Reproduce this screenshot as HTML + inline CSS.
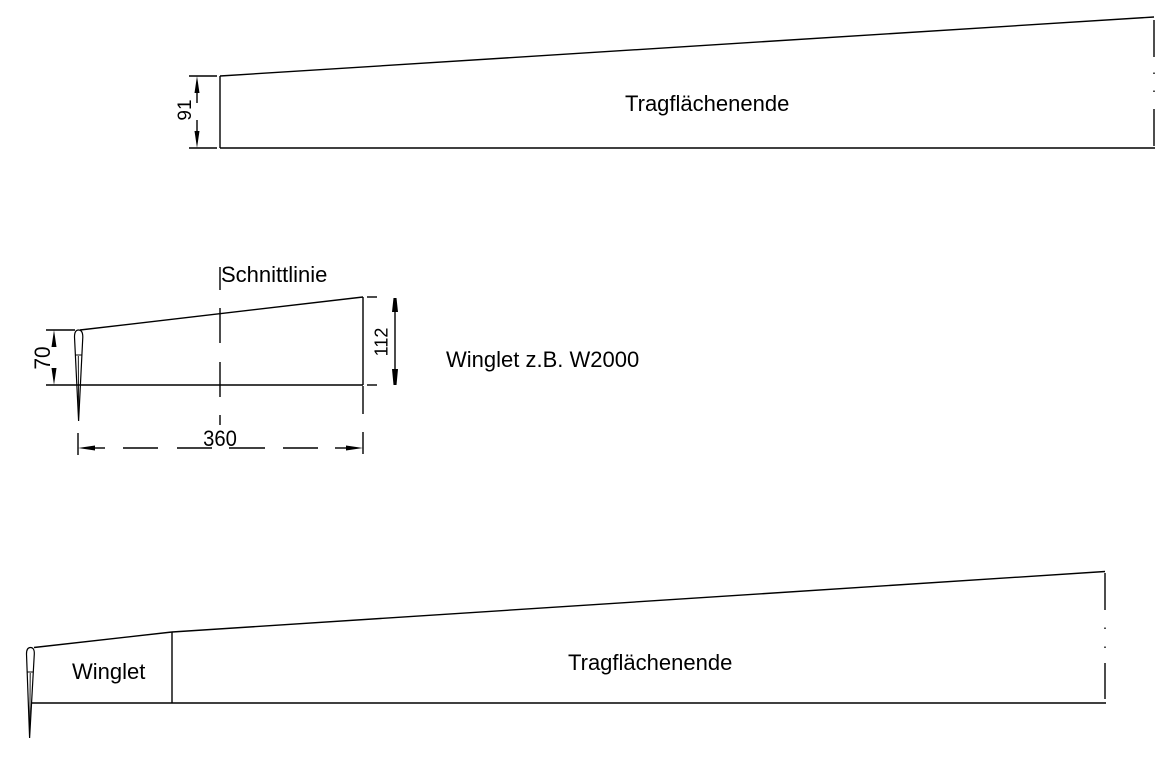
<!DOCTYPE html>
<html>
<head>
<meta charset="utf-8">
<style>
html,body{margin:0;padding:0;background:#fff;}
svg{display:block;}
text{font-family:"Liberation Sans",Arial,sans-serif;fill:#000;}
</style>
</head>
<body>
<svg width="1170" height="764" viewBox="0 0 1170 764" xmlns="http://www.w3.org/2000/svg">
<g stroke="#000" stroke-width="1.4" fill="none">
  <!-- TOP SHAPE -->
  <line x1="220" y1="76" x2="1154" y2="17"/>
  <line x1="220" y1="76" x2="220" y2="148"/>
  <line x1="220" y1="148" x2="1155" y2="148"/>
  <line x1="1154" y1="20" x2="1154" y2="57"/>
  <line x1="1154" y1="72.5" x2="1154" y2="74"/>
  <line x1="1154" y1="90.5" x2="1154" y2="92"/>
  <line x1="1154" y1="109" x2="1154" y2="146"/>
  <!-- dim 91 -->
  <line x1="189" y1="76" x2="217" y2="76"/>
  <line x1="189" y1="148" x2="217" y2="148"/>
  <line x1="197" y1="90" x2="197" y2="103"/>
  <line x1="197" y1="120" x2="197" y2="134"/>

  <!-- MIDDLE SHAPE -->
  <line x1="80" y1="330" x2="363" y2="297"/>
  <line x1="363" y1="297" x2="363" y2="385"/>
  <line x1="46" y1="385" x2="363" y2="385"/>
  <line x1="46" y1="330" x2="75" y2="330"/>
  <!-- Schnittlinie -->
  <line x1="220" y1="267" x2="220" y2="290"/>
  <line x1="220" y1="308" x2="220" y2="343"/>
  <line x1="220" y1="362" x2="220" y2="397"/>
  <line x1="220" y1="415" x2="220" y2="425"/>
  <!-- winglet profile middle -->
  <path d="M74.5,337 Q74.5,330 78.5,330 Q82.8,330 82.8,337 L78.6,421 Z" stroke-width="1.2"/>
  <line x1="75.3" y1="355" x2="81.7" y2="355" stroke-width="1"/>
  <line x1="78.3" y1="356" x2="78.5" y2="412" stroke-width="0.9"/>
  <!-- dim 112 -->
  <line x1="367" y1="297" x2="377" y2="297"/>
  <line x1="367" y1="385" x2="377" y2="385"/>
  <line x1="395" y1="312" x2="395" y2="370"/>
  <!-- dim 360 -->
  <line x1="78" y1="433" x2="78" y2="455"/>
  <line x1="363" y1="386" x2="363" y2="414"/>
  <line x1="363" y1="432" x2="363" y2="454"/>
  <line x1="90" y1="448" x2="105" y2="448"/>
  <line x1="123" y1="448" x2="158" y2="448"/>
  <line x1="177" y1="448" x2="212" y2="448"/>
  <line x1="229" y1="448" x2="265" y2="448"/>
  <line x1="283" y1="448" x2="318" y2="448"/>
  <line x1="335" y1="448" x2="350" y2="448"/>

  <!-- BOTTOM SHAPE -->
  <line x1="34" y1="647.5" x2="172" y2="632"/>
  <line x1="172" y1="632" x2="1105" y2="571.5"/>
  <line x1="172" y1="632" x2="172" y2="703"/>
  <line x1="31" y1="703" x2="1106" y2="703"/>
  <line x1="1105" y1="573" x2="1105" y2="610"/>
  <line x1="1105" y1="627.5" x2="1105" y2="629"/>
  <line x1="1105" y1="646.5" x2="1105" y2="648"/>
  <line x1="1105" y1="663" x2="1105" y2="699"/>
  <!-- winglet profile bottom -->
  <path d="M26.5,654 Q26.5,647.5 30.5,647.5 Q34.5,647.5 34.3,654 L29.6,738 Z" stroke-width="1.2"/>
  <line x1="27.3" y1="672" x2="33.3" y2="672" stroke-width="1"/>
  <line x1="30.2" y1="673" x2="29.8" y2="730" stroke-width="0.9"/>
</g>

<!-- arrowheads -->
<g fill="#000" stroke="none">
  <!-- 91 -->
  <polygon points="197,76 194.5,93 199.5,93"/>
  <polygon points="197,148 194.5,131 199.5,131"/>
  <!-- 70 -->
  <polygon points="54,330 51.5,347 56.5,347"/>
  <polygon points="54,385 51.5,368 56.5,368"/>
  <!-- 112 -->
  <polygon points="393.5,298 396.5,298 398,312 392,312"/>
  <polygon points="393.5,385 396.5,385 398,369 392,369"/>
  <!-- 360 -->
  <polygon points="78,448 95,445.5 95,450.5"/>
  <polygon points="363,448 346,445.5 346,450.5"/>
</g>

<!-- dimension texts -->
<text x="0" y="0" font-size="19" text-anchor="middle" transform="translate(191,110) rotate(-90)">91</text>
<text x="0" y="0" font-size="22" text-anchor="middle" transform="translate(50,358) rotate(-90) scale(0.95,1)">70</text>
<text x="0" y="0" font-size="18" text-anchor="middle" transform="translate(387.5,342) rotate(-90)">112</text>
<text x="0" y="0" font-size="22" text-anchor="middle" transform="translate(220,446) scale(0.92,1)">360</text>

<!-- labels -->
<text x="625" y="111" font-size="22">Tragflächenende</text>
<text x="221" y="282" font-size="22">Schnittlinie</text>
<text x="446" y="367" font-size="22">Winglet z.B. W2000</text>
<text x="72" y="679" font-size="22">Winglet</text>
<text x="568" y="670" font-size="22">Tragflächenende</text>
</svg>
</body>
</html>
